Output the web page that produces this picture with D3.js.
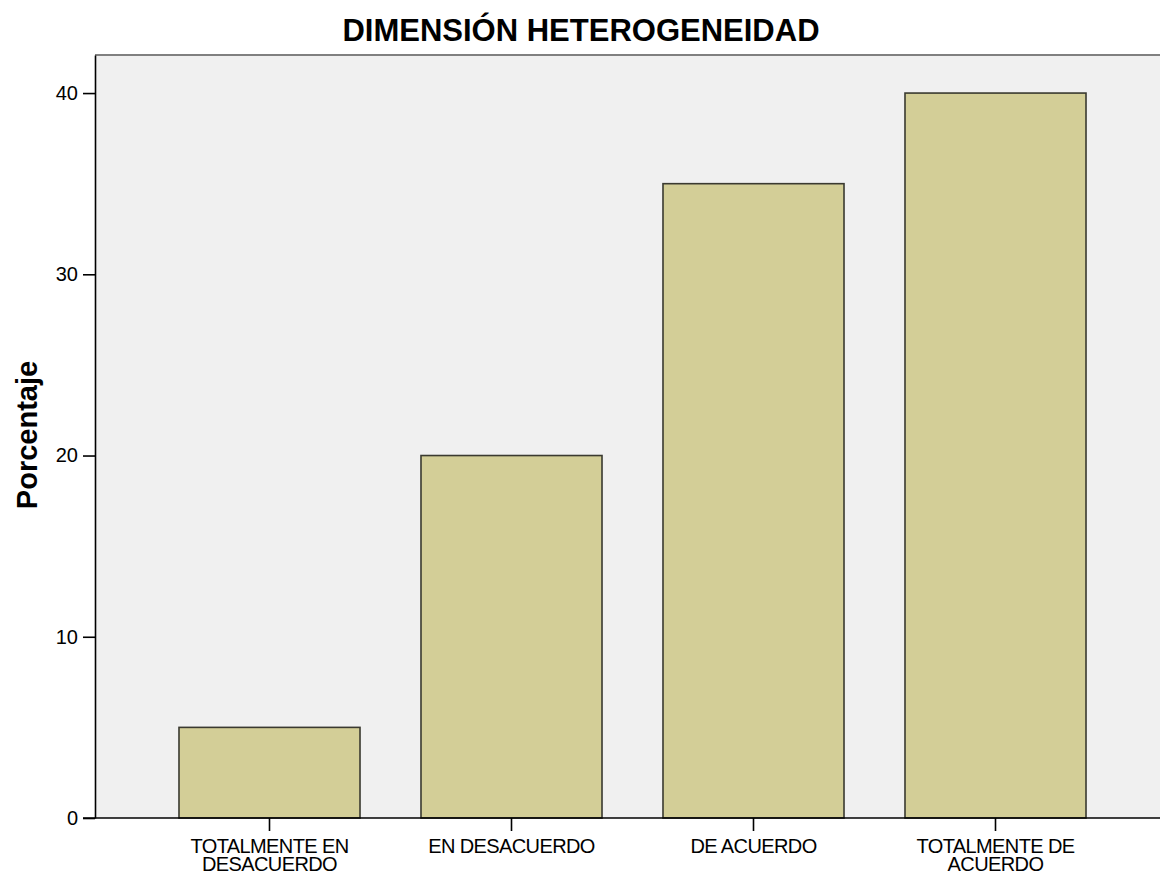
<!DOCTYPE html>
<html>
<head>
<meta charset="utf-8">
<script src="https://cdn.jsdelivr.net/npm/d3@7"></script>
<style>
  body { margin: 0; background: #fff; }
  svg { display: block; font-family: "Liberation Sans", Arial, sans-serif; }
</style>
</head>
<body>
<div id="my_graphic"></div>
<script>
// data
const categories = ["TOTALMENTE EN DESACUERDO", "EN DESACUERDO", "DE ACUERDO", "TOTALMENTE DE ACUERDO"];
const labelLines = [["TOTALMENTE EN", "DESACUERDO"], ["EN DESACUERDO"], ["DE ACUERDO"], ["TOTALMENTE DE", "ACUERDO"]];
const percentages = [5, 20, 35, 40];
const yTicks = [0, 10, 20, 30, 40];
const chartTitle = "DIMENSIÓN HETEROGENEIDAD";
const yTitle = "Porcentaje";

const W = 1160, H = 872;
const plot = {left: 95, right: 1160, top: 55, bottom: 818};

const svg = d3.select("#my_graphic")
    .append("svg")
    .attr("width", W)
    .attr("height", H);

// plot background
svg.append("rect")
    .attr("x", plot.left)
    .attr("y", plot.top)
    .attr("width", plot.right - plot.left)
    .attr("height", plot.bottom - plot.top)
    .attr("fill", "#f0f0f0");

// top frame line
svg.append("line")
    .attr("x1", plot.left).attr("x2", plot.right)
    .attr("y1", plot.top).attr("y2", plot.top)
    .attr("stroke", "#808080")
    .attr("stroke-width", 2);

const x = d3.scaleBand()
    .domain(categories)
    .range([148.5, 1116.5])
    .paddingInner(0.252)
    .paddingOuter(0.126);

const y = d3.scaleLinear()
    .domain([0, 42.1])
    .range([plot.bottom, plot.top]);

// bars
svg.append("g")
    .selectAll("rect")
    .data(percentages)
    .join("rect")
    .attr("x", (d, i) => x(categories[i]))
    .attr("y", d => y(d))
    .attr("width", x.bandwidth())
    .attr("height", d => y(0) - y(d))
    .attr("fill", "#d3ce97")
    .attr("stroke", "#3a3a30")
    .attr("stroke-width", 1.6);

// y axis
svg.append("g")
    .attr("transform", `translate(${plot.left},0)`)
    .call(d3.axisLeft(y).tickValues(yTicks).tickSize(12).tickPadding(5).tickSizeOuter(0))
    .call(g => g.select(".domain").attr("stroke", "#000").attr("stroke-width", 1.6))
    .call(g => g.selectAll(".tick line").attr("stroke", "#000").attr("stroke-width", 1.6))
    .call(g => g.selectAll(".tick text")
        .attr("font-size", 20)
        .attr("font-family", "Liberation Sans, Arial, sans-serif")
        .attr("fill", "#000"));

// x axis baseline across the full width
svg.append("line")
    .attr("x1", plot.left - 12).attr("x2", plot.right)
    .attr("y1", plot.bottom).attr("y2", plot.bottom)
    .attr("stroke", "#000")
    .attr("stroke-width", 1.6);

const xAxis = svg.append("g")
    .attr("transform", `translate(0,${plot.bottom})`)
    .call(d3.axisBottom(x).tickSize(13).tickSizeOuter(0).tickFormat(""))
    .call(g => g.select(".domain").remove())
    .call(g => g.selectAll(".tick line").attr("stroke", "#000").attr("stroke-width", 1.6));

// two-line category labels
xAxis.selectAll(".tick text")
    .each(function(d, i) {
        const t = d3.select(this)
            .attr("y", 0)
            .attr("dy", null)
            .attr("font-size", 20)
            .attr("letter-spacing", "-0.6px")
            .attr("font-family", "Liberation Sans, Arial, sans-serif")
            .attr("fill", "#000");
        labelLines[i].forEach((line, k) => {
            t.append("tspan")
                .attr("x", 0)
                .attr("y", 35 + k * 18)
                .text(line);
        });
    });

// title
svg.append("text")
    .attr("x", 581)
    .attr("y", 41)
    .attr("text-anchor", "middle")
    .attr("font-size", 31)
    .attr("font-weight", "bold")
    .text(chartTitle);

// y axis title
svg.append("text")
    .attr("transform", `translate(37,435) rotate(-90)`)
    .attr("text-anchor", "middle")
    .attr("font-size", 29)
    .attr("font-weight", "bold")
    .text(yTitle);
</script>
</body>
</html>
